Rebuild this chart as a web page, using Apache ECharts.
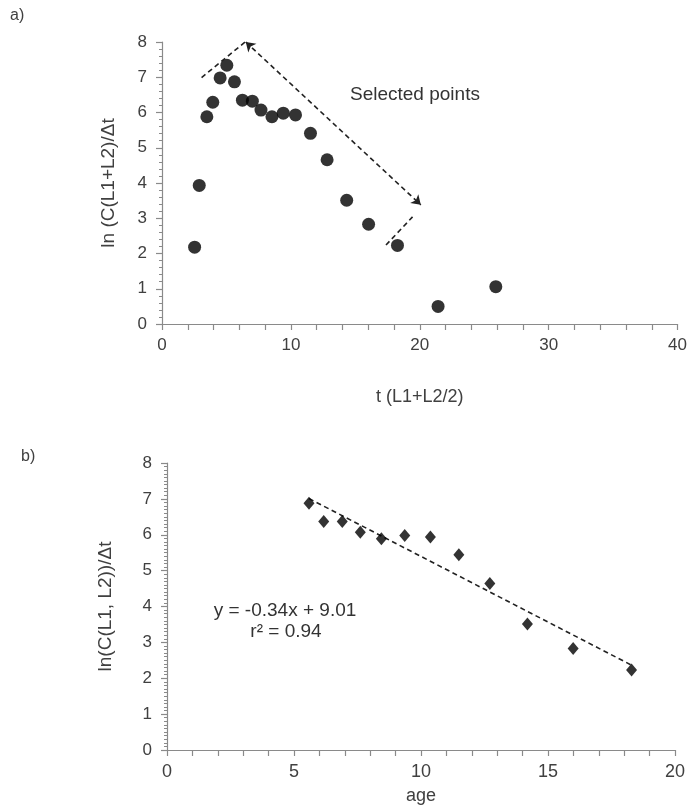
<!DOCTYPE html>
<html>
<head>
<meta charset="utf-8">
<script src="https://cdn.jsdelivr.net/npm/echarts@6/dist/echarts.min.js"></script>
<style>
html,body{margin:0;padding:0;background:#fff;}
#chart{width:690px;height:810px;}
</style>
</head>
<body>
<div id="chart"></div>
<script>
// ---- Panel a) data: t (L1+L2/2) vs ln(C(L1+L2))/Δt ----
var tValuesA = [2.53, 2.89, 3.48, 3.94, 4.51, 5.03, 5.62, 6.24, 7.01, 7.68, 8.53, 9.41, 10.36, 11.52, 12.81, 14.33, 16.03, 18.27, 21.42, 25.9];
var lnValuesA = [2.18, 3.93, 5.88, 6.29, 6.98, 7.34, 6.87, 6.35, 6.32, 6.07, 5.88, 5.98, 5.93, 5.41, 4.66, 3.51, 2.83, 2.23, 0.50, 1.06];

// ---- Panel b) data: selected points, age vs ln(C(L1,L2))/Δt ----
var ageValuesB = [5.59, 6.17, 6.90, 7.61, 8.44, 9.36, 10.37, 11.49, 12.71, 14.19, 15.99, 18.29];
var lnValuesB = [6.88, 6.37, 6.37, 6.07, 5.89, 5.98, 5.94, 5.44, 4.64, 3.51, 2.83, 2.23];

// ---- Annotation (dashed arrows on panel a), data coordinates ----
var arrowMain = [[6.5, 8.0], [20.08, 3.38]];
var arrowLeftStub = [[3.07, 6.99], [6.45, 8.0]];
var arrowRightStub = [[17.38, 2.24], [19.44, 3.04]];

// ---- Texts ----
var labelA = 'a)';
var labelB = 'b)';
var selectedText = 'Selected points';
var eqText = 'y = -0.34x + 9.01';
var r2Text = 'r² = 0.94';
var xNameA = 't (L1+L2/2)';
var yNameA = 'ln (C(L1+L2)/Δt';
var xNameB = 'age';
var yNameB = 'ln(C(L1, L2))/Δt';

// ---- Axis ranges / ticks ----
var xAxisA = {min: 0, max: 40, interval: 2, labelEvery: 10};
var yAxisA = {min: 0, max: 8, interval: 1};
var xAxisB = {min: 0, max: 20, interval: 1, labelEvery: 5};
var yAxisB = {min: 0, max: 8, interval: 1};

// least-squares trend line of panel b data
function linFit(xs, ys) {
  var n = xs.length, sx = 0, sy = 0;
  for (var i = 0; i < n; i++) { sx += xs[i]; sy += ys[i]; }
  var mx = sx / n, my = sy / n, sxy = 0, sxx = 0;
  for (var j = 0; j < n; j++) { sxy += (xs[j] - mx) * (ys[j] - my); sxx += (xs[j] - mx) * (xs[j] - mx); }
  var b = sxy / sxx;
  return {slope: b, intercept: my - b * mx};
}
var fit = linFit(ageValuesB, lnValuesB);
var xMinB = Math.min.apply(null, ageValuesB), xMaxB = Math.max.apply(null, ageValuesB);
var trendData = [[xMinB, fit.intercept + fit.slope * xMinB], [xMaxB, fit.intercept + fit.slope * xMaxB]];

function zip(a, b) { return a.map(function (v, i) { return [v, b[i]]; }); }

var FONT = '"Liberation Sans", Arial, sans-serif';
var TXT = '#404040';
var AX = '#8a8a8a';

function xAxisCfg(idx, ax, name, gap, fs) {
  return {
    type: 'value', gridIndex: idx, min: ax.min, max: ax.max, interval: ax.interval,
    name: name, nameLocation: 'middle', nameGap: gap,
    nameTextStyle: {color: TXT, fontSize: 18, fontFamily: FONT},
    axisLine: {show: true, onZero: false, lineStyle: {color: AX, width: 1.2}},
    axisTick: {show: true, inside: false, length: 6, lineStyle: {color: AX, width: 1.2}},
    axisLabel: {show: true, margin: 13, color: TXT, fontSize: fs, fontFamily: FONT,
      formatter: function (v) { return (Math.round(v) % ax.labelEvery === 0) ? String(Math.round(v)) : ''; }},
    splitLine: {show: false}
  };
}
function yAxisCfg(idx, ax, name, gap, minorN) {
  return {
    type: 'value', gridIndex: idx, min: ax.min, max: ax.max, interval: ax.interval,
    name: name, nameLocation: 'middle', nameGap: gap, nameRotate: 90,
    nameTextStyle: {color: TXT, fontSize: 19, fontFamily: FONT},
    axisLine: {show: true, onZero: false, lineStyle: {color: AX, width: 1.2}},
    axisTick: {show: true, inside: false, length: 6, lineStyle: {color: AX, width: 1.2}},
    minorTick: {show: true, splitNumber: minorN, length: 3, lineStyle: {color: AX, width: 1}},
    axisLabel: {show: true, margin: 15, color: TXT, fontSize: 17, fontFamily: FONT},
    splitLine: {show: false}, minorSplitLine: {show: false}
  };
}

var chart = echarts.init(document.getElementById('chart'), null, {renderer: 'canvas'});
var dashStyle = {color: '#222', width: 1.6, type: [5, 3.5]};

chart.setOption({
  animation: false,
  backgroundColor: '#ffffff',
  grid: [
    {left: 162, right: 10, top: 42, height: 282},
    {left: 167, right: 15, top: 463, height: 287}
  ],
  xAxis: [
    xAxisCfg(0, xAxisA, xNameA, 64, 17),
    xAxisCfg(1, xAxisB, xNameB, 37, 18)
  ],
  yAxis: [
    yAxisCfg(0, yAxisA, yNameA, 44, 5),
    yAxisCfg(1, yAxisB, yNameB, 52, 10)
  ],
  series: [
    {
      type: 'scatter', xAxisIndex: 0, yAxisIndex: 0, clip: false,
      data: zip(tValuesA, lnValuesA),
      symbol: 'circle', symbolSize: 13,
      itemStyle: {color: '#000'},
      markLine: {
        silent: true, animation: false,
        label: {show: false},
        lineStyle: dashStyle,
        data: [
          [{coord: arrowMain[0], symbol: 'arrow', symbolSize: 9}, {coord: arrowMain[1], symbol: 'arrow', symbolSize: 9}],
          [{coord: arrowLeftStub[0], symbol: 'none'}, {coord: arrowLeftStub[1], symbol: 'none'}],
          [{coord: arrowRightStub[0], symbol: 'none'}, {coord: arrowRightStub[1], symbol: 'none'}]
        ]
      }
    },
    {
      type: 'line', xAxisIndex: 1, yAxisIndex: 1,
      data: trendData, showSymbol: false, symbol: 'none',
      lineStyle: dashStyle, z: 1
    },
    {
      type: 'scatter', xAxisIndex: 1, yAxisIndex: 1,
      data: zip(ageValuesB, lnValuesB),
      symbol: 'diamond', symbolSize: [11, 13],
      itemStyle: {color: '#000'}, z: 3
    }
  ],
  graphic: [
    {type: 'text', left: 10, top: 8, style: {text: labelA, fill: TXT, font: '16px ' + FONT}},
    {type: 'text', left: 21, top: 449, style: {text: labelB, fill: TXT, font: '16px ' + FONT}},
    {type: 'text', x: 350, y: 95, style: {text: selectedText, fill: '#333', font: '19px ' + FONT, textAlign: 'left', textVerticalAlign: 'middle'}},
    {type: 'text', x: 285, y: 611, style: {text: eqText, fill: '#333', font: '19px ' + FONT, textAlign: 'center', textVerticalAlign: 'middle'}},
    {type: 'text', x: 286, y: 632, style: {text: r2Text, fill: '#333', font: '19px ' + FONT, textAlign: 'center', textVerticalAlign: 'middle'}}
  ]
});
</script>
</body>
</html>
